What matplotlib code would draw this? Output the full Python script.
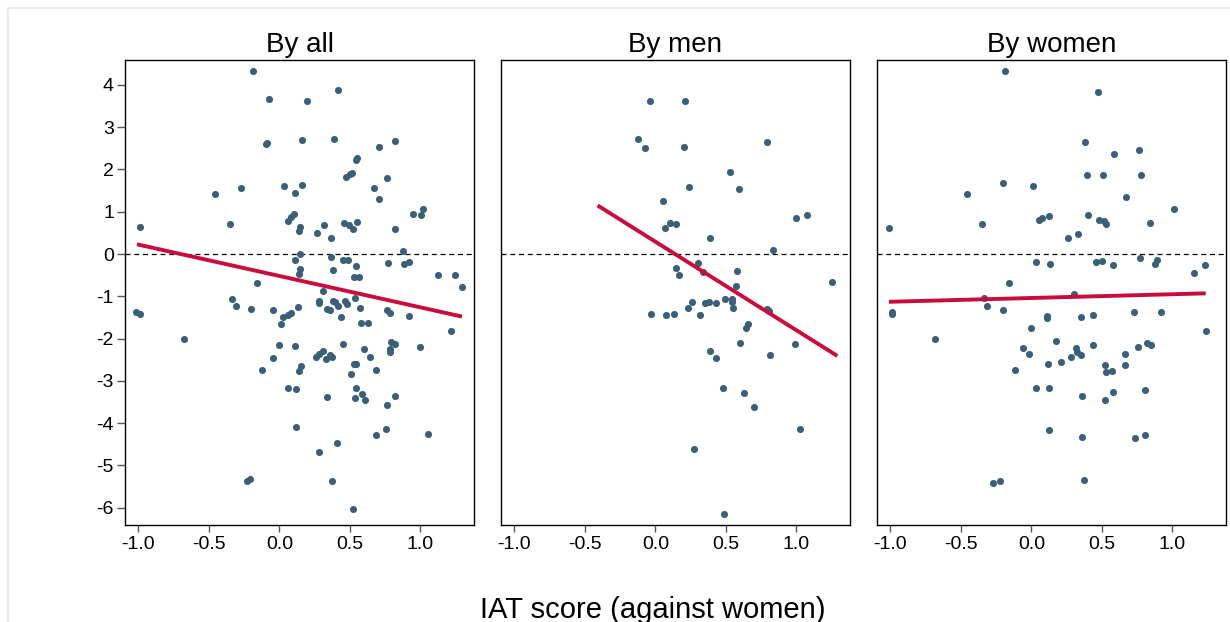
import numpy as np
import matplotlib
matplotlib.use("Agg")
import matplotlib.pyplot as plt
from matplotlib.patches import Rectangle

plt.rcParams['font.family'] = ['Liberation Sans', 'DejaVu Sans']

# ---- data ----
all_x = [-0.188, 0.413, -0.075, 0.197, -0.094, -0.089, 0.162, 0.387, 0.709, 0.818,
         0.541, 0.55, 0.474, 0.498, 0.515, 0.763, 0.670, 0.706, -0.456, -0.271,
         0.032, 0.11, 0.157, -0.352, -0.99, 0.06, 0.081, 0.10, 0.145, 0.138,
         0.27, 0.318, 0.363, 0.455, 0.491, 0.52, 0.553, 0.822, 0.945, 1.002,
         1.02, 0.879, 0.145, 0.11, 0.148, 0.14, 0.363, 0.377, 0.453, 0.489,
         0.545, 0.526, 0.567, 0.772, 0.883, 0.917, 1.127, 1.245, 1.297, -0.162,
         0.306,
         -0.335, -0.311, -0.2, -1.019, -0.986, -0.044, 0.027, 0.058, 0.079, 0.008,
         0.132, 0.28, 0.28, 0.339, 0.358, 0.38, 0.392, 0.418, 0.467, 0.481,
         0.536, 0.57, 0.439, 0.765, 0.781, 0.919, 0.578, 0.63, 1.217, -0.68,
         -0.004, 0.112, -0.046, 0.256, 0.283, 0.311, 0.33, 0.361, 0.372, 0.451,
         0.597, 0.642, 0.791, 0.819, 0.782, 0.782, 0.995, 0.138, 0.152, -0.12,
         0.526, 0.545, 0.505, 0.688, 0.058, 0.117, 0.337, 0.54, 0.536, 0.583,
         0.605, 0.822, 0.765, 0.117, 0.758, 0.687, 1.056, 0.408, 0.278, -0.228,
         -0.205, 0.373, 0.521]
all_y = [4.32, 3.87, 3.67, 3.63, 2.60, 2.62, 2.70, 2.71, 2.54, 2.67,
         2.22, 2.27, 1.83, 1.89, 1.91, 1.81, 1.57, 1.29, 1.43, 1.57,
         1.61, 1.44, 1.63, 0.71, 0.64, 0.77, 0.87, 0.94, 0.65, 0.54,
         0.50, 0.69, 0.39, 0.74, 0.69, 0.59, 0.76, 0.60, 0.95, 0.92,
         1.07, 0.06, -0.01, -0.13, -0.36, -0.47, -0.08, -0.37, -0.13, -0.13,
         -0.29, -0.54, -0.54, -0.21, -0.24, -0.18, -0.49, -0.50, -0.77, -0.69,
         -0.88,
         -1.06, -1.23, -1.31, -1.37, -1.42, -1.33, -1.50, -1.45, -1.39, -1.66,
         -1.26, -1.12, -1.17, -1.29, -1.33, -1.12, -1.14, -1.23, -1.11, -1.18,
         -1.05, -1.27, -1.48, -1.32, -1.40, -1.47, -1.63, -1.63, -1.81, -2.02,
         -2.15, -2.18, -2.45, -2.44, -2.37, -2.30, -2.49, -2.38, -2.44, -2.12,
         -2.24, -2.44, -2.08, -2.12, -2.24, -2.32, -2.20, -2.76, -2.65, -2.75,
         -2.61, -2.60, -2.84, -2.74, -3.16, -3.19, -3.38, -3.16, -3.40, -3.32,
         -3.46, -3.35, -3.57, -4.09, -4.13, -4.29, -4.26, -4.48, -4.68, -5.37,
         -5.33, -5.38, -6.03]

men_x = [-0.04, 0.213, -0.123, -0.071, 0.203, 0.79, 0.527, 0.241, 0.593, 0.052,
         0.998, 1.076, 0.106, 0.149, 0.071, 0.388, 0.832, 0.149, 0.17, 0.303,
         0.336, 0.577, 0.572, 1.253,
         -0.033, 0.078, 0.13, 0.232, 0.26, 0.314, 0.355, 0.383, 0.433, 0.496,
         0.546, 0.544, 0.553, 0.79, 0.804, 0.655, 0.645, 0.603, 0.993, 0.39,
         0.43, 0.816, 0.48, 0.626, 0.70, 1.026, 0.277, 0.485]
men_y = [3.63, 3.62, 2.71, 2.52, 2.53, 2.64, 1.93, 1.59, 1.54, 1.25,
         0.86, 0.92, 0.74, 0.71, 0.62, 0.37, 0.09, -0.32, -0.50, -0.21,
         -0.43, -0.39, -0.76, -0.67,
         -1.41, -1.44, -1.43, -1.28, -1.14, -1.44, -1.16, -1.14, -1.16, -1.07,
         -1.07, -1.14, -1.28, -1.30, -1.34, -1.66, -1.76, -2.11, -2.12, -2.30,
         -2.45, -2.38, -3.16, -3.28, -3.61, -4.15, -4.61, -6.15]

women_x = [-0.189, 0.475, 0.381, 0.586, 0.761, 0.392, 0.506, 0.78, -0.203, 0.014,
           -0.454, 0.671, 1.012, -1.012, -0.35, 0.057, 0.073, 0.123, 0.402, 0.482,
           0.515, 0.53, 0.844, 0.26, 0.331, 0.031, 0.132, 0.456, 0.504, 0.579,
           0.771, 0.875, 0.891, 1.156, 1.232, -0.161, 0.303,
           -0.333, -0.314, -0.203, -0.99, -0.986, 0.111, 0.111, 0.35, 0.437, 0.728,
           0.922, -0.005, 1.241, -0.681, 0.175, 0.435, -0.057, -0.019, 0.319, 0.322,
           0.35, 0.281, 0.118, 0.208, 0.664, 0.754, 0.818, 0.846, 0.522, 0.532,
           0.57, 0.664, -0.118, 0.033, 0.128, 0.359, 0.52, 0.577, 0.806, 0.128,
           0.359, 0.738, 0.806, -0.27, -0.222, 0.371]
women_y = [4.32, 3.83, 2.65, 2.37, 2.46, 1.86, 1.87, 1.88, 1.69, 1.62,
           1.42, 1.35, 1.07, 0.62, 0.71, 0.81, 0.86, 0.89, 0.92, 0.80,
           0.77, 0.71, 0.74, 0.39, 0.47, -0.20, -0.24, -0.20, -0.17, -0.25,
           -0.09, -0.24, -0.13, -0.44, -0.27, -0.69, -0.94,
           -1.05, -1.22, -1.33, -1.37, -1.42, -1.46, -1.52, -1.48, -1.44, -1.37,
           -1.37, -1.74, -1.81, -2.02, -2.06, -2.15, -2.23, -2.37, -2.23, -2.31,
           -2.40, -2.43, -2.59, -2.56, -2.37, -2.19, -2.11, -2.16, -2.63, -2.78,
           -2.76, -2.62, -2.75, -3.18, -3.16, -3.37, -3.46, -3.27, -3.21, -4.17,
           -4.32, -4.35, -4.28, -5.42, -5.37, -5.35]

# fitted lines: x range and y at the ends
fit_all_x, fit_all_y = [-1.01, 1.295], [0.23, -1.48]
fit_men_x, fit_men_y = [-0.41, 1.29], [1.15, -2.41]
fit_women_x, fit_women_y = [-1.01, 1.236], [-1.13, -0.93]

titles = ["By all", "By men", "By women"]
xticks = [-1.0, -0.5, 0.0, 0.5, 1.0]
xticklabels = ["-1.0", "-0.5", "0.0", "0.5", "1.0"]
yticks = [-6, -5, -4, -3, -2, -1, 0, 1, 2, 3, 4]

dot_color = '#3c5f78'
line_color = '#c80c3c'

fig = plt.figure(figsize=(12.3, 6.22), dpi=100)
fig.patches.append(Rectangle((8 / 1230, -0.1), 1.2, 1.1 - 8 / 622,
                             transform=fig.transFigure, fill=False,
                             edgecolor='#e6edf2', lw=1.5))

panels = [(all_x, all_y, fit_all_x, fit_all_y),
          (men_x, men_y, fit_men_x, fit_men_y),
          (women_x, women_y, fit_women_x, fit_women_y)]
lefts = [125, 501, 877]

for i, (px, py, fx, fy) in enumerate(panels):
    ax = fig.add_axes([lefts[i] / 1230, 97 / 622, 349 / 1230, 465 / 622])
    ax.axhline(0, color='black', lw=0.9, ls=(0, (4, 3)), zorder=1)
    ax.scatter(px, py, s=26, color=dot_color, linewidths=0, zorder=2)
    ax.plot(fx, fy, color=line_color, lw=2.8, zorder=3, solid_capstyle='butt')
    ax.set_xlim(-1.095, 1.38)
    ax.set_ylim(-6.41, 4.59)
    ax.set_xticks(xticks)
    ax.set_xticklabels(xticklabels)
    ax.set_title(titles[i], fontsize=20, pad=6)
    ax.tick_params(axis='x', direction='out', length=5, width=1, color='#555555',
                   labelsize=14, pad=3)
    if i == 0:
        ax.set_yticks(yticks)
        ax.set_yticklabels([str(t) for t in yticks])
        ax.tick_params(axis='y', direction='out', length=6, width=1, color='#555555',
                       labelsize=14, pad=2)
    else:
        ax.set_yticks([])
    for sp in ax.spines.values():
        sp.set_color('black')
        sp.set_linewidth(1.0)

fig.text(653 / 1230, 4 / 622, "IAT score (against women)", fontsize=21,
         ha='center', va='baseline')

fig.savefig("out.png", dpi=100)
